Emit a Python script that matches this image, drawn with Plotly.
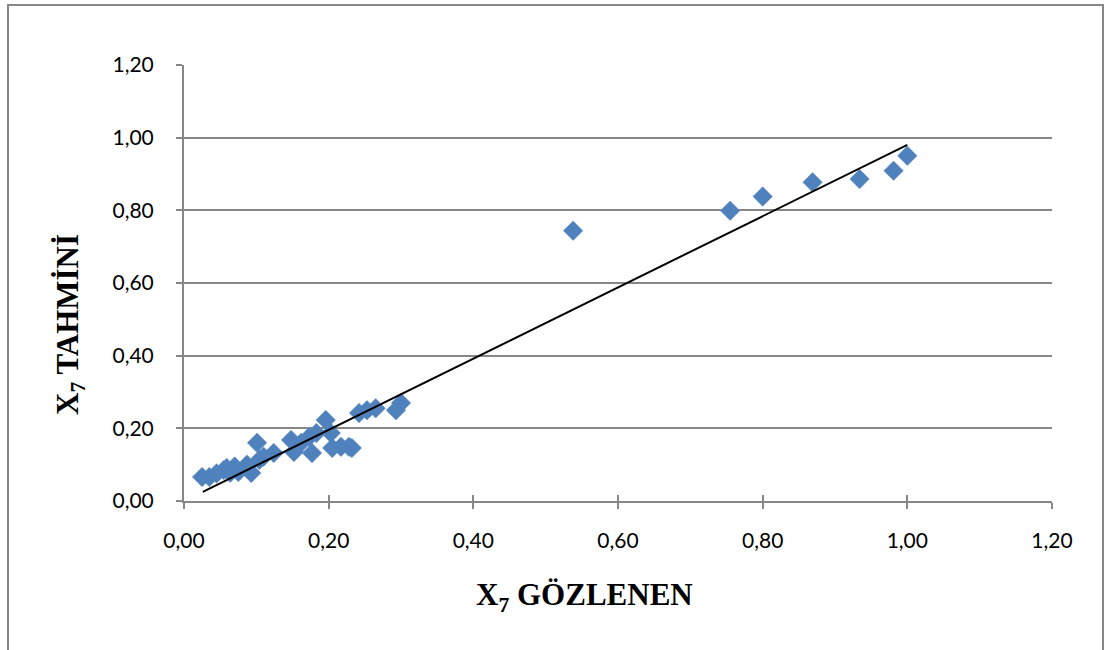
import plotly.graph_objects as go

# Observed vs. predicted values of X7
x_observed = [0.025, 0.035, 0.045, 0.055, 0.059, 0.064, 0.070, 0.075, 0.087, 0.093,
              0.101, 0.104, 0.110, 0.124, 0.148, 0.152, 0.162, 0.173, 0.177, 0.183,
              0.196, 0.203, 0.205, 0.217, 0.228, 0.232, 0.242, 0.253, 0.265, 0.293,
              0.300, 0.538, 0.755, 0.800, 0.869, 0.934, 0.981, 1.000]
y_predicted = [0.066, 0.066, 0.076, 0.085, 0.091, 0.078, 0.095, 0.080, 0.100, 0.077,
               0.160, 0.113, 0.122, 0.132, 0.168, 0.135, 0.160, 0.176, 0.132, 0.187,
               0.223, 0.187, 0.146, 0.149, 0.149, 0.146, 0.242, 0.250, 0.255, 0.250,
               0.270, 0.744, 0.799, 0.838, 0.877, 0.886, 0.909, 0.950]

# Fitted line end points
fit_x = [0.026, 1.000]
fit_y = [0.025, 0.980]

tick_vals = [0.0, 0.2, 0.4, 0.6, 0.8, 1.0, 1.2]
tick_text = ["0,00", "0,20", "0,40", "0,60", "0,80", "1,00", "1,20"]

GRID = "#878787"
BLUE = "#4F81BD"
TICK_FONT = dict(family="Lato, Carlito, sans-serif", size=21, color="#000000")
TITLE_FONT = dict(family="Liberation Serif, Times New Roman, serif", size=31, color="#000000")

fig = go.Figure()

fig.add_trace(go.Scatter(
    x=x_observed, y=y_predicted, mode="markers",
    marker=dict(symbol="diamond", size=15, color=BLUE,
                line=dict(color="#5A8AC6", width=0.5)),
    showlegend=False, hoverinfo="x+y",
))

fig.add_trace(go.Scatter(
    x=fit_x, y=fit_y, mode="lines",
    line=dict(color="#000000", width=2),
    showlegend=False, hoverinfo="skip",
))

# invisible trace on overlay axes carrying the inner half of the cross ticks
fig.add_trace(go.Scatter(
    x=[0], y=[0], xaxis="x2", yaxis="y2", mode="markers",
    marker=dict(opacity=0), showlegend=False, hoverinfo="skip",
))

axis_common = dict(
    range=[0, 1.2], tickvals=tick_vals, ticktext=tick_text,
    showline=True, linecolor=GRID, linewidth=2,
    ticks="outside", ticklen=6, tickwidth=1.5, tickcolor=GRID,
    tickfont=TICK_FONT, zeroline=False,
)

fig.update_layout(
    width=1105, height=650,
    paper_bgcolor="white", plot_bgcolor="white",
    margin=dict(l=184, r=53, t=65, b=149),
    xaxis=dict(**axis_common, showgrid=False, ticklabelstandoff=14),
    yaxis=dict(**axis_common, showgrid=True, gridcolor=GRID, gridwidth=1.5,
               ticklabelstandoff=18),
    xaxis2=dict(range=[0, 1.2], tickvals=tick_vals, overlaying="x", anchor="y2",
                side="bottom", ticks="inside", ticklen=6, tickwidth=1.5,
                tickcolor=GRID, showticklabels=False, showgrid=False,
                zeroline=False, showline=False),
    yaxis2=dict(range=[0, 1.2], tickvals=tick_vals, overlaying="y", anchor="x2",
                side="left", ticks="inside", ticklen=6, tickwidth=1.5,
                tickcolor=GRID, showticklabels=False, showgrid=False,
                zeroline=False, showline=False),
    showlegend=False,
)

# Axis titles
fig.add_annotation(
    text="<b>X<sub>7</sub> GÖZLENEN</b>", xref="paper", yref="paper",
    x=(584 - 184) / 868, y=(501 - 597) / 436, showarrow=False,
    xanchor="center", yanchor="middle", font=TITLE_FONT,
)
fig.add_annotation(
    text="<b>X<sub>7</sub> TAHMİNİ</b>", xref="paper", yref="paper",
    x=(70 - 184) / 868, y=(501 - 325) / 436, showarrow=False, textangle=-90,
    xanchor="center", yanchor="middle", font=TITLE_FONT,
)

# Chart-area border
fig.add_shape(
    type="rect", xref="paper", yref="paper",
    x0=(8 - 184) / 868, x1=(1103 - 184) / 868,
    y0=(501 - 660) / 436, y1=(501 - 5) / 436,
    line=dict(color=GRID, width=2), fillcolor="rgba(0,0,0,0)", layer="below",
)

fig.write_html("out.html")
